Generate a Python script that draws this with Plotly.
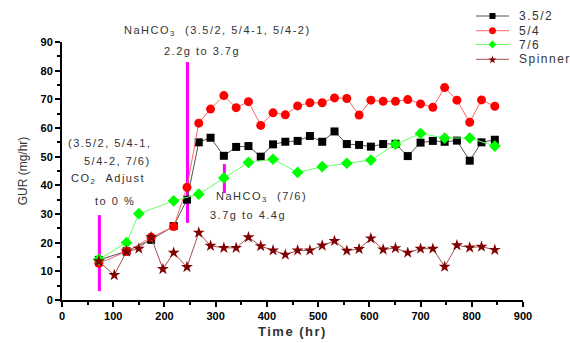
import math
import plotly.graph_objects as go

t_blk = [72, 126, 174, 218, 244, 267, 290, 316, 340, 364, 388, 412, 436, 460, 484, 508, 532, 556, 580, 603, 627, 651, 675, 700, 724, 747, 771, 796, 819, 845]
v_blk = [14.0, 17.0, 21.0, 25.8, 35.0, 55.0, 56.6, 50.3, 53.4, 53.7, 50.0, 54.3, 55.2, 55.5, 57.2, 55.2, 58.8, 54.4, 54.1, 53.5, 54.4, 54.5, 50.2, 54.9, 55.5, 55.2, 55.6, 48.6, 55.0, 55.9]

t_red = [72, 126, 174, 218, 244, 267, 290, 316, 340, 364, 388, 412, 436, 460, 484, 508, 532, 556, 580, 603, 627, 651, 675, 700, 724, 747, 771, 796, 819, 845]
v_red = [12.8, 16.9, 21.9, 25.6, 39.3, 61.7, 66.6, 71.3, 67.1, 69.2, 60.9, 65.3, 64.6, 67.7, 68.8, 68.8, 70.5, 70.3, 64.5, 69.7, 69.3, 69.3, 69.9, 68.4, 67.2, 74.1, 69.7, 62.0, 69.8, 67.6]

t_grn = [72, 126, 150, 218, 267, 316, 364, 412, 460, 508, 556, 603, 651, 700, 747, 796, 845]
v_grn = [14.2, 20.0, 30.1, 34.6, 36.9, 42.6, 48.0, 49.1, 44.5, 46.5, 47.7, 48.8, 54.3, 58.1, 56.5, 56.5, 53.7]

t_spn = [72, 102, 126, 150, 174, 197, 218, 244, 267, 290, 316, 340, 364, 388, 412, 436, 460, 484, 508, 532, 556, 580, 603, 627, 651, 675, 700, 724, 747, 771, 796, 819, 845]
v_spn = [13.5, 8.7, 16.9, 17.9, 21.9, 10.8, 16.5, 11.5, 23.5, 18.9, 18.2, 18.2, 21.9, 18.8, 17.3, 15.8, 17.3, 17.3, 19.0, 20.6, 17.2, 17.8, 21.5, 17.6, 18.1, 16.5, 17.9, 17.9, 11.6, 19.1, 18.3, 18.6, 17.5]

series_names = ["3.5/2", "5/4", "7/6", "Spinner"]

# magenta event markers: (time, y_bottom, y_top)
evt_t = [73, 245, 317]
evt_lo = [3.1, 26.9, 37.3]
evt_hi = [29.6, 83.0, 47.4]

FONT = "Liberation Sans, Arial, sans-serif"


def sp(s, ls=1.5):
    return '<span style="letter-spacing:%spx">%s</span>' % (ls, s)


L, R, T, B = 62, 47, 42, 43
W, H = 570, 343
pw, ph = W - L - R, H - T - B


def px2paper(px, py):
    return (px - L) / pw, (H - B - py) / ph


def poly_path(pts):
    out = []
    for k, (px, py) in enumerate(pts):
        x, y = px2paper(px, py)
        out.append(("M" if k == 0 else "L") + "%.5f,%.5f" % (x, y))
    return " ".join(out) + " Z"


styles = [
    dict(line=dict(color="#555555", width=1), marker=dict(symbol="square", size=8, color="#000000")),
    dict(line=dict(color="#ff6666", width=1), marker=dict(symbol="circle", size=9, color="#ff0000")),
    dict(line=dict(color="#66ff66", width=1), marker=dict(symbol="diamond", size=9, color="#00ff00")),
    dict(line=dict(color="#a05050", width=1), marker=dict(symbol="star", size=9, color="#800000")),
]

fig = go.Figure()

for i in range(len(evt_t)):
    fig.add_trace(go.Scatter(x=[evt_t[i], evt_t[i]], y=[evt_lo[i], evt_hi[i]], mode="lines",
                             line=dict(color="#ff00ff", width=3), showlegend=False, hoverinfo="skip"))

data = [(t_blk, v_blk), (t_red, v_red), (t_grn, v_grn), (t_spn, v_spn)]
for (tx, vy), nm, st in zip(data, series_names, styles):
    fig.add_trace(go.Scatter(x=tx, y=vy, name=nm, mode="lines+markers", showlegend=False, **st))

# hand-drawn legend (compact spacing like the reference)
leg_y = [16, 30.7, 44.5, 59.3]
leg_x0, leg_x1, leg_xm, leg_tx = 476, 509, 492.5, 517
for i, nm in enumerate(series_names):
    cy = leg_y[i]
    xa, ya = px2paper(leg_x0, cy)
    xb, _ = px2paper(leg_x1, cy)
    fig.add_shape(type="line", xref="paper", yref="paper", x0=xa, x1=xb, y0=ya, y1=ya,
                  line=dict(color=styles[i]["line"]["color"], width=1))
    col = styles[i]["marker"]["color"]
    m = leg_xm
    if i == 0:
        pts = [(m - 3, cy - 3), (m + 3, cy - 3), (m + 3, cy + 3), (m - 3, cy + 3)]
    elif i == 1:
        pts = [(m + 3.5 * math.cos(a), cy + 3.5 * math.sin(a)) for a in [k * math.pi / 12 for k in range(24)]]
    elif i == 2:
        pts = [(m, cy - 4), (m + 4, cy), (m, cy + 4), (m - 4, cy)]
    else:
        pts = []
        for k in range(10):
            r = 4.2 if k % 2 == 0 else 1.7
            a = -math.pi / 2 + k * math.pi / 5
            pts.append((m + r * math.cos(a), cy + 0.5 + r * math.sin(a)))
    fig.add_shape(type="path", xref="paper", yref="paper", path=poly_path(pts),
                  fillcolor=col, line=dict(width=0))
    tx, ty = px2paper(leg_tx, cy)
    fig.add_annotation(x=tx, y=ty, xref="paper", yref="paper", text=sp(nm, 1.5), showarrow=False,
                       xanchor="left", yanchor="middle", font=dict(family=FONT, size=12, color="#333333"))

ann_color = "#333333"
anns = [
    dict(x=217, y=31, text=sp("NaHCO<sub>3</sub>") + "   " + sp("(3.5/2, 5/4-1, 5/4-2)")),
    dict(x=202, y=51, text=sp("2.2g to 3.7g")),
    dict(x=109, y=143, text=sp("(3.5/2, 5/4-1,")),
    dict(x=117, y=161, text=sp("5/4-2, 7/6)")),
    dict(x=108, y=179, text=sp("CO<sub>2</sub>") + "   " + sp("Adjust")),
    dict(x=115, y=201, text=sp("to 0 %")),
    dict(x=261, y=197, text=sp("NaHCO<sub>3</sub>") + "   " + sp("(7/6)")),
    dict(x=248, y=215, text=sp("3.7g to 4.4g")),
]
for a in anns:
    ax, ay = px2paper(a["x"], a["y"])
    fig.add_annotation(x=ax, y=ay, xref="paper", yref="paper",
                       text=a["text"], showarrow=False, xanchor="center", yanchor="middle",
                       font=dict(family=FONT, size=11, color=ann_color))

fig.update_layout(
    width=W, height=H,
    margin=dict(l=L, r=R, t=T, b=B, autoexpand=False),
    plot_bgcolor="white", paper_bgcolor="white",
    font=dict(family=FONT, size=11, color="#000000"),
    showlegend=False,
    xaxis=dict(range=[0, 900], tickvals=list(range(0, 901, 100)),
               showgrid=False, zeroline=False, showline=True, linecolor="black", linewidth=2,
               ticks="outside", ticklen=5, tickwidth=2, tickcolor="black",
               minor=dict(tickvals=list(range(50, 900, 100)), ticks="outside", ticklen=3, tickwidth=1.5, tickcolor="black"),
               tickfont=dict(family=FONT, size=11, color="black", weight="bold"),
               title=dict(text=sp("Time (hr)", 1.5), font=dict(family=FONT, size=13, color="#333333", weight="bold"), standoff=6)),
    yaxis=dict(range=[0, 90], tickvals=list(range(0, 91, 10)),
               showgrid=False, zeroline=False, showline=True, linecolor="black", linewidth=2,
               ticks="outside", ticklen=5, tickwidth=2, tickcolor="black",
               minor=dict(tickvals=list(range(5, 90, 10)), ticks="outside", ticklen=3, tickwidth=1.5, tickcolor="black"),
               tickfont=dict(family=FONT, size=11, color="black", weight="bold"),
               title=dict(text="GUR (mg/hr)", font=dict(family=FONT, size=12, color="#333333"), standoff=10)),
)

fig.write_html("out.html")
